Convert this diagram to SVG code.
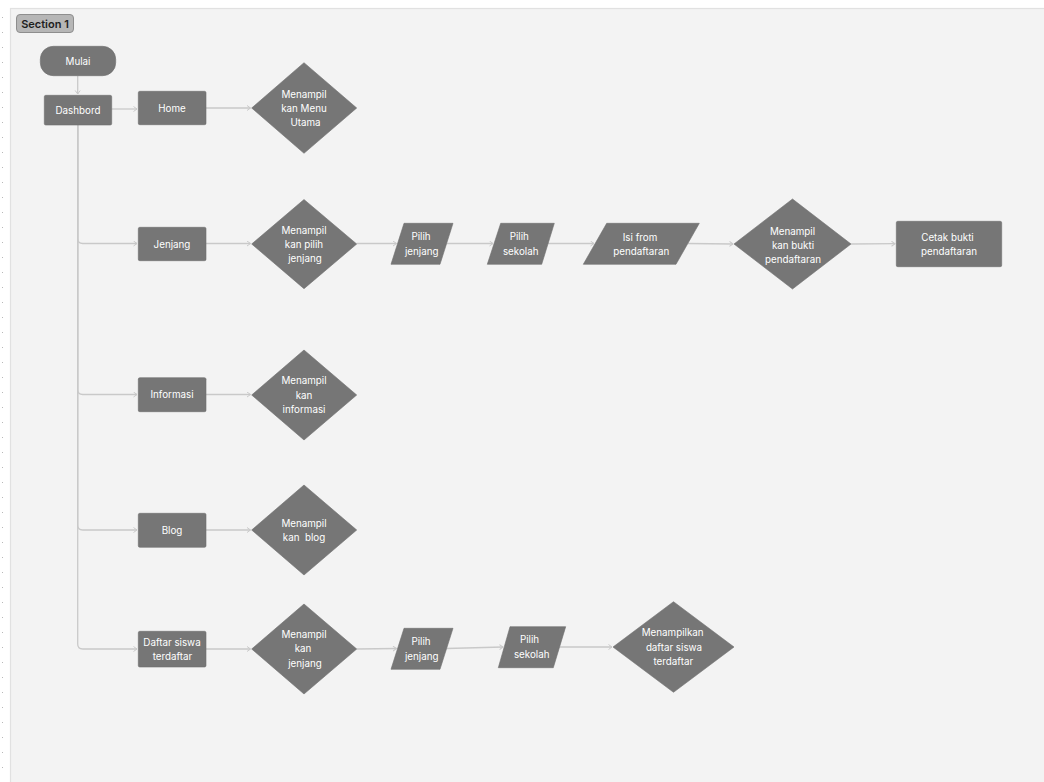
<svg xmlns="http://www.w3.org/2000/svg" width="1044" height="782" viewBox="0 0 1044 782">
<defs>
<style>
.n{fill:#767676;stroke:#6e6e6e;stroke-width:0.6}
.t{font-family:Inter,"Liberation Sans",sans-serif;font-size:9.8px;fill:#ffffff;text-anchor:middle;white-space:pre}
.c{fill:none;stroke:#c9c9c9;stroke-width:1.3}
.dot{fill:#b8b8b8}
</style>
<marker id="ah" markerWidth="8" markerHeight="8" refX="4" refY="3" orient="auto" markerUnits="userSpaceOnUse">
<path d="M0.5,0.5 L4,3 L0.5,5.5" fill="none" stroke="#c9c9c9" stroke-width="1"/>
</marker>
</defs>
<rect x="0" y="0" width="1044" height="782" fill="#ffffff"/>
<g id="dots">
<rect class="dot" x="2" y="17" width="1" height="1"/><rect class="dot" x="2" y="32" width="1" height="1"/><rect class="dot" x="2" y="47" width="1" height="1"/><rect class="dot" x="2" y="62" width="1" height="1"/><rect class="dot" x="2" y="77" width="1" height="1"/><rect class="dot" x="2" y="92" width="1" height="1"/><rect class="dot" x="2" y="107" width="1" height="1"/><rect class="dot" x="2" y="122" width="1" height="1"/><rect class="dot" x="2" y="137" width="1" height="1"/><rect class="dot" x="2" y="152" width="1" height="1"/><rect class="dot" x="2" y="167" width="1" height="1"/><rect class="dot" x="2" y="182" width="1" height="1"/><rect class="dot" x="2" y="197" width="1" height="1"/><rect class="dot" x="2" y="212" width="1" height="1"/><rect class="dot" x="2" y="227" width="1" height="1"/><rect class="dot" x="2" y="242" width="1" height="1"/><rect class="dot" x="2" y="257" width="1" height="1"/><rect class="dot" x="2" y="272" width="1" height="1"/><rect class="dot" x="2" y="287" width="1" height="1"/><rect class="dot" x="2" y="302" width="1" height="1"/><rect class="dot" x="2" y="317" width="1" height="1"/><rect class="dot" x="2" y="332" width="1" height="1"/><rect class="dot" x="2" y="347" width="1" height="1"/><rect class="dot" x="2" y="362" width="1" height="1"/><rect class="dot" x="2" y="377" width="1" height="1"/><rect class="dot" x="2" y="392" width="1" height="1"/><rect class="dot" x="2" y="407" width="1" height="1"/><rect class="dot" x="2" y="422" width="1" height="1"/><rect class="dot" x="2" y="437" width="1" height="1"/><rect class="dot" x="2" y="452" width="1" height="1"/><rect class="dot" x="2" y="467" width="1" height="1"/><rect class="dot" x="2" y="482" width="1" height="1"/><rect class="dot" x="2" y="497" width="1" height="1"/><rect class="dot" x="2" y="512" width="1" height="1"/><rect class="dot" x="2" y="527" width="1" height="1"/><rect class="dot" x="2" y="542" width="1" height="1"/><rect class="dot" x="2" y="557" width="1" height="1"/><rect class="dot" x="2" y="572" width="1" height="1"/><rect class="dot" x="2" y="587" width="1" height="1"/><rect class="dot" x="2" y="602" width="1" height="1"/><rect class="dot" x="2" y="617" width="1" height="1"/><rect class="dot" x="2" y="632" width="1" height="1"/><rect class="dot" x="2" y="647" width="1" height="1"/><rect class="dot" x="2" y="662" width="1" height="1"/><rect class="dot" x="2" y="677" width="1" height="1"/><rect class="dot" x="2" y="692" width="1" height="1"/><rect class="dot" x="2" y="707" width="1" height="1"/><rect class="dot" x="2" y="722" width="1" height="1"/><rect class="dot" x="2" y="737" width="1" height="1"/><rect class="dot" x="2" y="752" width="1" height="1"/><rect class="dot" x="2" y="767" width="1" height="1"/>
</g>
<g id="section">
<rect x="10.5" y="8.5" width="1040" height="780" fill="#f3f3f3" stroke="#e1e1e1" stroke-width="1.2"/>
<rect x="16.5" y="14.5" width="57" height="18" rx="3.5" fill="#b6b6b6" stroke="#8e8e8e" stroke-width="1"/>
<text x="45" y="27.5" font-family="Inter,'Liberation Sans',sans-serif" font-size="11" font-weight="600" fill="#1e1e1e" text-anchor="middle">Section 1</text>
</g>
<g id="connectors">
<path class="c" d="M77.7,76 V94" marker-end="url(#ah)"/>
<path class="c" d="M111.7,109 H137" marker-end="url(#ah)"/>
<path class="c" d="M206,108 H250.5" marker-end="url(#ah)"/>
<path class="c" d="M77.7,125 V238.5 Q77.7,243.5 82.7,243.5 H137" marker-end="url(#ah)"/>
<path class="c" d="M77.7,125 V389.5 Q77.7,394.5 82.7,394.5 H137" marker-end="url(#ah)"/>
<path class="c" d="M77.7,125 V525 Q77.7,530 82.7,530 H137" marker-end="url(#ah)"/>
<path class="c" d="M77.7,125 V644 Q77.7,649 82.7,649 H137" marker-end="url(#ah)"/>
<path class="c" d="M206,243.5 H250.5" marker-end="url(#ah)"/>
<path class="c" d="M356.7,243.5 H396.5" marker-end="url(#ah)"/>
<path class="c" d="M446.5,243.5 H493" marker-end="url(#ah)"/>
<path class="c" d="M548,243.5 H594" marker-end="url(#ah)"/>
<path class="c" d="M687.7,243.5 L733,244" marker-end="url(#ah)"/>
<path class="c" d="M851,244 L895,243.7" marker-end="url(#ah)"/>
<path class="c" d="M206,394.5 H250.5" marker-end="url(#ah)"/>
<path class="c" d="M206,530 H250.5" marker-end="url(#ah)"/>
<path class="c" d="M206,649 H250.5" marker-end="url(#ah)"/>
<path class="c" d="M356.7,649 L396.5,648.5" marker-end="url(#ah)"/>
<path class="c" d="M446.5,648.5 L503,647" marker-end="url(#ah)"/>
<path class="c" d="M559.5,647 H612" marker-end="url(#ah)"/>
</g>
<g id="mulai">
<rect class="n" x="40.3" y="46.3" width="75.4" height="29.4" rx="13"/>
<text class="t" x="78" y="64.5">Mulai</text>
</g>
<g id="dashbord">
<rect class="n" x="44.3" y="95.3" width="67.4" height="29.7" rx="1.5"/>
<text class="t" x="78" y="113.5">Dashbord</text>
</g>
<g id="home">
<rect class="n" x="138.3" y="91.3" width="67.7" height="33.4" rx="1.5"/>
<text class="t" x="172" y="111.5">Home</text>
</g>
<g id="d-menu">
<polygon class="n" points="304,62.7 356.7,108 304,153.3 251.7,108"/>
<text class="t" x="304" y="97.8">Menampil</text>
<text class="t" x="304" y="112.3">kan Menu</text>
<text class="t" x="305.5" y="126.3">Utama</text>
</g>
<g id="jenjang">
<rect class="n" x="138.3" y="227.3" width="67.7" height="33.4" rx="1.5"/>
<text class="t" x="172" y="247.5">Jenjang</text>
</g>
<g id="d-pilih-jenjang">
<polygon class="n" points="304,199.5 356.7,244 304,288.7 251.7,244"/>
<text class="t" x="304" y="233.5">Menampil</text>
<text class="t" x="304" y="247.8">kan pilih</text>
<text class="t" x="305" y="262">jenjang</text>
</g>
<g id="pilih-jenjang-1">
<polygon class="n" points="404,223.3 453,223.3 440,264.3 391,264.3"/>
<text class="t" x="421" y="240.2">Pilih</text>
<text class="t" x="421.7" y="254.6">jenjang</text>
</g>
<g id="pilih-sekolah-1">
<polygon class="n" points="500.7,223.3 554.3,223.3 541.7,264.3 487.3,264.3"/>
<text class="t" x="519.3" y="240.2">Pilih</text>
<text class="t" x="520.7" y="254.6">sekolah</text>
</g>
<g id="isi-form">
<polygon class="n" points="606.7,223.3 699.3,223.3 676,264.3 583.3,264.3"/>
<text class="t" x="640" y="240.5">Isi from</text>
<text class="t" x="641.3" y="254.6">pendaftaran</text>
</g>
<g id="d-bukti">
<polygon class="n" points="792.5,199 851,244 792.5,289 734,244"/>
<text class="t" x="792.5" y="234.5">Menampil</text>
<text class="t" x="793" y="248.6">kan bukti</text>
<text class="t" x="793" y="262.6">pendaftaran</text>
</g>
<g id="cetak">
<rect class="n" x="896.3" y="221.3" width="105.4" height="45.4" rx="1.5"/>
<text class="t" x="947.5" y="241.2">Cetak bukti</text>
<text class="t" x="949" y="254.6">pendaftaran</text>
</g>
<g id="informasi">
<rect class="n" x="138.3" y="377.7" width="67.7" height="34" rx="1.5"/>
<text class="t" x="172" y="398.2">Informasi</text>
</g>
<g id="d-informasi">
<polygon class="n" points="304,350 356.7,395 304,440 251.7,395"/>
<text class="t" x="304" y="384.2">Menampil</text>
<text class="t" x="304" y="398.5">kan</text>
<text class="t" x="304" y="412.6">informasi</text>
</g>
<g id="blog">
<rect class="n" x="138.3" y="513.3" width="67.7" height="34" rx="1.5"/>
<text class="t" x="172" y="534">Blog</text>
</g>
<g id="d-blog">
<polygon class="n" points="304,485 356.7,530 304,575 251.7,530"/>
<text class="t" x="304" y="526.8">Menampil</text>
<text class="t" x="304" y="540.8" xml:space="preserve">kan  blog</text>
</g>
<g id="daftar-siswa">
<rect class="n" x="138.3" y="631.3" width="67.7" height="35.7" rx="1.5"/>
<text class="t" x="172" y="645.5">Daftar siswa</text>
<text class="t" x="172.5" y="660.2">terdaftar</text>
</g>
<g id="d-jenjang">
<polygon class="n" points="304,604 356.7,649 304,694 251.7,649"/>
<text class="t" x="304" y="637.7">Menampil</text>
<text class="t" x="303" y="652.3">kan</text>
<text class="t" x="305" y="666.5">jenjang</text>
</g>
<g id="pilih-jenjang-2">
<polygon class="n" points="404,628.3 453,628.3 440,669.3 391,669.3"/>
<text class="t" x="421" y="645.2">Pilih</text>
<text class="t" x="421.7" y="660.2">jenjang</text>
</g>
<g id="pilih-sekolah-2">
<polygon class="n" points="510,626.7 565.7,626.7 553.3,667.7 498.3,667.7"/>
<text class="t" x="529.5" y="642.8">Pilih</text>
<text class="t" x="531.7" y="657.8">sekolah</text>
</g>
<g id="d-daftar">
<polygon class="n" points="673.5,601.7 734,647 673.5,692.3 613,647"/>
<text class="t" x="672.7" y="636.2">Menampilkan</text>
<text class="t" x="674" y="650.8">daftar siswa</text>
<text class="t" x="673.3" y="664.5">terdaftar</text>
</g>
</svg>
